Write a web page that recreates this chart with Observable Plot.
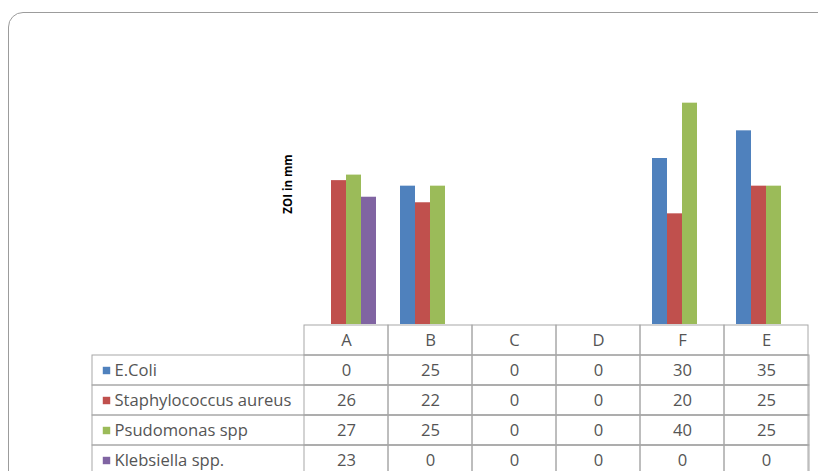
<!DOCTYPE html>
<html>
<head>
<meta charset="utf-8">
<script src="https://cdn.jsdelivr.net/npm/d3@7"></script>
<script src="https://cdn.jsdelivr.net/npm/@observablehq/plot@0.6"></script>
<style>
  html, body { margin: 0; padding: 0; background: #fff; }
  #page { position: relative; width: 818px; height: 471px; overflow: hidden; background: #fff; font-family: "Open Sans", sans-serif; }
  #frame { position: absolute; left: 8px; top: 12px; width: 840px; height: 500px; border: 1.5px solid #9c9c9c; border-radius: 15px; box-sizing: border-box; }
  #chart { position: absolute; left: 0; top: 0; }
  #table { position: absolute; left: 0; top: 323px; }
  #ylabel { position: absolute; left: 287px; top: 184px; transform: translate(-50%, -50%) rotate(-90deg); font-weight: bold; font-size: 11.5px; color: #000; white-space: nowrap; font-family: "Open Sans", sans-serif; }
</style>
</head>
<body>
<div id="page">
  <div id="frame"></div>
  <div id="chart"></div>
  <div id="table"></div>
  <div id="ylabel">ZOI in mm</div>
</div>
<script>
const categories = ["A", "B", "C", "D", "F", "E"];
const seriesNames = ["E.Coli", "Staphylococcus aureus", "Psudomonas spp", "Klebsiella spp."];
const eColi = [0, 25, 0, 0, 30, 35];
const staph = [26, 22, 0, 0, 20, 25];
const pseudo = [27, 25, 0, 0, 40, 25];
const klebs = [23, 0, 0, 0, 0, 0];
const colors = ["#4F81BD", "#C0504D", "#9BBB59", "#8064A2"];
const yLabel = "ZOI in mm";

const seriesValues = [eColi, staph, pseudo, klebs];
const data = [];
seriesNames.forEach((s, si) => categories.forEach((c, ci) => data.push({series: s, category: c, value: seriesValues[si][ci]})));

const W = 818;
const colLeft = 302, colRight = 809;

const chart = Plot.plot({
  width: W,
  height: 324,
  marginLeft: colLeft,
  marginRight: W - colRight,
  marginTop: 75,
  marginBottom: 0,
  fx: {domain: categories, padding: 0, axis: null},
  x: {domain: seriesNames, paddingInner: 0, paddingOuter: 0.77, axis: null},
  y: {domain: [0, 45], axis: null},
  color: {domain: seriesNames, range: colors},
  marks: [
    Plot.barY(data, {fx: "category", x: "series", y: "value", fill: "series", inset: 0})
  ]
});
document.getElementById("chart").appendChild(chart);

const rowKeys = ["header", ...seriesNames];
const gridCells = [];
rowKeys.forEach(r => categories.forEach(c => gridCells.push({row: r, category: c})));

const rowH = 30.3;
const tableFont = "Open Sans, sans-serif";
const textColor = "#555555";
const fs = 16.6;
const table = Plot.plot({
  width: W,
  height: 152,
  marginLeft: 92,
  marginRight: W - colRight,
  marginTop: 1,
  marginBottom: 0,
  style: {fontFamily: tableFont, fontSize: fs + "px", color: textColor, background: "transparent", overflow: "visible"},
  x: {domain: categories, range: [colLeft, colRight], padding: 0, axis: null},
  y: {domain: rowKeys, range: [1, 1 + rowH * rowKeys.length], padding: 0, axis: null},
  color: {domain: seriesNames, range: colors},
  marks: [
    Plot.cell(seriesNames, {y: d => d, fill: "none", stroke: "#a8a8a8", strokeWidth: 1}),
    Plot.cell(gridCells, {x: "category", y: "row", fill: "none", stroke: "#a8a8a8", strokeWidth: 1}),
    Plot.text(categories, {x: d => d, y: () => "header", text: d => d, fill: textColor, fontSize: fs}),
    Plot.text(data, {x: "category", y: "series", text: d => String(d.value), fill: textColor, fontSize: fs}),
    Plot.dot(seriesNames, {y: d => d, frameAnchor: "left", dx: 14, symbol: "square", r: 4.2, fill: d => d}),
    Plot.text(seriesNames, {y: d => d, text: d => d, frameAnchor: "left", textAnchor: "start", dx: 22, fill: textColor, fontSize: fs})
  ]
});
document.getElementById("table").appendChild(table);
</script>
</body>
</html>
